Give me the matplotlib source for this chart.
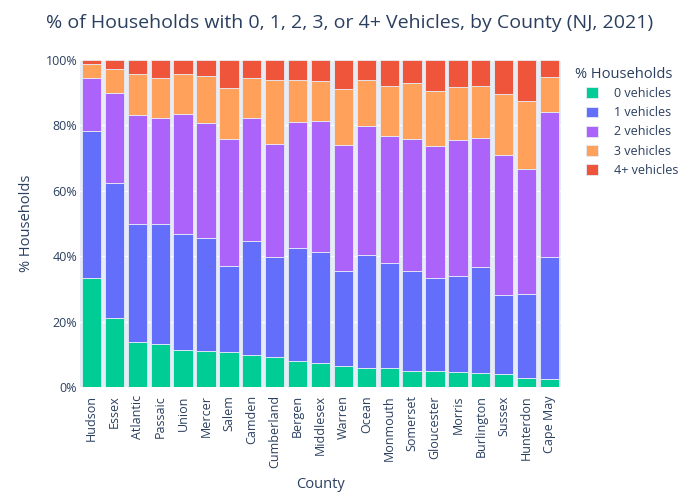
import matplotlib
matplotlib.use("Agg")
import matplotlib.pyplot as plt
from matplotlib.ticker import PercentFormatter

plt.rcParams['font.family'] = ['Open Sans', 'DejaVu Sans']

counties = ["Hudson", "Essex", "Atlantic", "Passaic", "Union", "Mercer", "Salem",
            "Camden", "Cumberland", "Bergen", "Middlesex", "Warren", "Ocean",
            "Monmouth", "Somerset", "Gloucester", "Morris", "Burlington",
            "Sussex", "Hunterdon", "Cape May"]

# share of households (%) by vehicles available
veh0 = [33.2, 21.1, 13.9, 13.1, 11.2, 10.9, 10.6, 9.8, 9.1, 7.9, 7.3,
        6.3, 5.7, 5.7, 4.8, 4.8, 4.5, 4.3, 3.9, 2.8, 2.4]
veh1 = [45.0, 41.4, 35.8, 36.8, 35.6, 34.7, 26.3, 35.0, 30.7, 34.6, 34.0,
        29.2, 34.7, 32.1, 30.7, 28.5, 29.5, 32.4, 24.2, 25.6, 37.5]
veh2 = [16.4, 27.5, 33.4, 32.5, 36.8, 35.2, 38.8, 37.6, 34.6, 38.5, 39.9,
        38.5, 39.3, 39.0, 40.3, 40.5, 41.4, 39.4, 43.0, 38.2, 44.3]
veh3 = [4.2, 7.2, 12.6, 12.1, 12.0, 14.4, 15.8, 12.2, 19.5, 12.9, 12.4,
        17.1, 14.1, 15.2, 17.1, 16.7, 16.3, 15.9, 18.6, 21.0, 10.6]
veh4 = [1.2, 2.8, 4.3, 5.5, 4.4, 4.8, 8.5, 5.4, 6.1, 6.1, 6.4,
        8.9, 6.2, 8.0, 7.1, 9.5, 8.3, 8.0, 10.3, 12.4, 5.2]

series = [veh0, veh1, veh2, veh3, veh4]
labels = ["0 vehicles", "1 vehicles", "2 vehicles", "3 vehicles", "4+ vehicles"]
colors = ["#00CC96", "#636EFA", "#AB63FA", "#FFA15A", "#EF553B"]

text_color = "#2a3f5f"

fig = plt.figure(figsize=(7, 5), dpi=100)
ax = fig.add_axes([80 / 700, 113 / 500, 481 / 700, 327 / 500])
ax.set_facecolor("#E5ECF6")

x = list(range(len(counties)))
bottom = [0.0] * len(counties)
for vals, lab, col in zip(series, labels, colors):
    ax.bar(x, vals, bottom=bottom, width=0.84, color=col, label=lab,
           edgecolor="#E5ECF6", linewidth=0.6, zorder=3)
    bottom = [b + v for b, v in zip(bottom, vals)]

ax.set_xlim(-0.5, len(counties) - 0.5)
ax.set_ylim(0, 100)
ax.set_yticks([0, 20, 40, 60, 80, 100])
ax.yaxis.set_major_formatter(PercentFormatter(decimals=0))
ax.grid(axis="y", color="white", linewidth=1, zorder=0)
ax.set_axisbelow(True)
for s in ax.spines.values():
    s.set_visible(False)

ax.set_xticks(x)
ax.set_xticklabels(counties, rotation=90)
ax.tick_params(axis="both", length=0, labelsize=9, colors=text_color)
ax.tick_params(axis="x", pad=6)
ax.tick_params(axis="y", pad=2)

ax.set_xlabel("County", fontsize=10.5, color=text_color, labelpad=6)
ax.set_ylabel("% Households", fontsize=10.5, color=text_color, labelpad=8)

fig.text(0.5, 0.955, "% of Households with 0, 1, 2, 3, or 4+ Vehicles, by County (NJ, 2021)",
         ha="center", va="center", fontsize=14, color=text_color)

# legend title drawn separately so the entries sit indented under it
fig.text(575 / 700, 1 - 74 / 500, "% Households", ha="left", va="center",
         fontsize=10.5, color=text_color)
leg = ax.legend(loc="upper left", bbox_to_anchor=(586 / 700, 1 - 87 / 500),
                bbox_transform=fig.transFigure, frameon=False, fontsize=9,
                handlelength=0.95, handleheight=0.95, handletextpad=1.25,
                labelspacing=0.5, borderaxespad=0, borderpad=0)
for t in leg.get_texts():
    t.set_color(text_color)

fig.savefig("out.png", dpi=100)
